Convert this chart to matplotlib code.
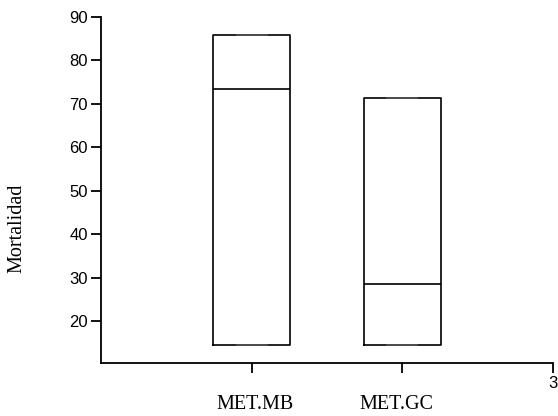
import matplotlib
matplotlib.use("Agg")
import matplotlib.pyplot as plt

categories = ["MET.MB", "MET.GC"]
positions = [1, 2]
mins = [14.6, 14.6]
q1s = [14.6, 14.6]
medians = [73.4, 28.6]
q3s = [85.9, 71.4]
maxs = [85.9, 71.4]
yticks = [20, 30, 40, 50, 60, 70, 80, 90]

fig = plt.figure(figsize=(5.58, 4.16), dpi=100)
ax = fig.add_axes([101/558, 1-363/416, (553-101)/558, (363-17)/416])

stats = []
for c, lo, a, m, b, hi in zip(categories, mins, q1s, medians, q3s, maxs):
    stats.append(dict(label=c, whislo=lo, q1=a, med=m, q3=b, whishi=hi, fliers=[]))

ax.bxp(stats, positions=positions, widths=0.51, showfliers=False,
       boxprops=dict(color="black", linewidth=1.2),
       medianprops=dict(color="black", linewidth=1.2),
       whiskerprops=dict(color="black", linewidth=1.2),
       capprops=dict(color="#555555", linewidth=1.2),
       capwidths=0.2, manage_ticks=False)

ax.set_xlim(0, 3)
ax.set_ylim(10.35, 90)
ax.set_yticks(yticks)
ax.set_yticklabels([str(v) for v in yticks], fontfamily="Liberation Sans", fontsize=12)
ax.set_xticks([1, 2, 3])
ax.set_xticklabels(["", "", "3"], fontfamily="Liberation Sans", fontsize=12)
for sp in ["top", "right"]:
    ax.spines[sp].set_visible(False)
for sp in ["left", "bottom"]:
    ax.spines[sp].set_linewidth(1.3)
ax.tick_params(axis="both", length=7.5, width=1.3, color="black", pad=2)

label_shift = [0.02, -0.04]
for p, c, s in zip(positions, categories, label_shift):
    ax.text(p + s, -0.121, c, transform=ax.get_xaxis_transform(), ha="center", va="center",
            fontfamily="Liberation Serif", fontsize=14.5)

fig.text(17/558, 1-228/416, "Mortalidad", rotation=90, ha="center", va="center",
         fontfamily="Liberation Serif", fontsize=14.5)

fig.savefig("out.png", dpi=100)
